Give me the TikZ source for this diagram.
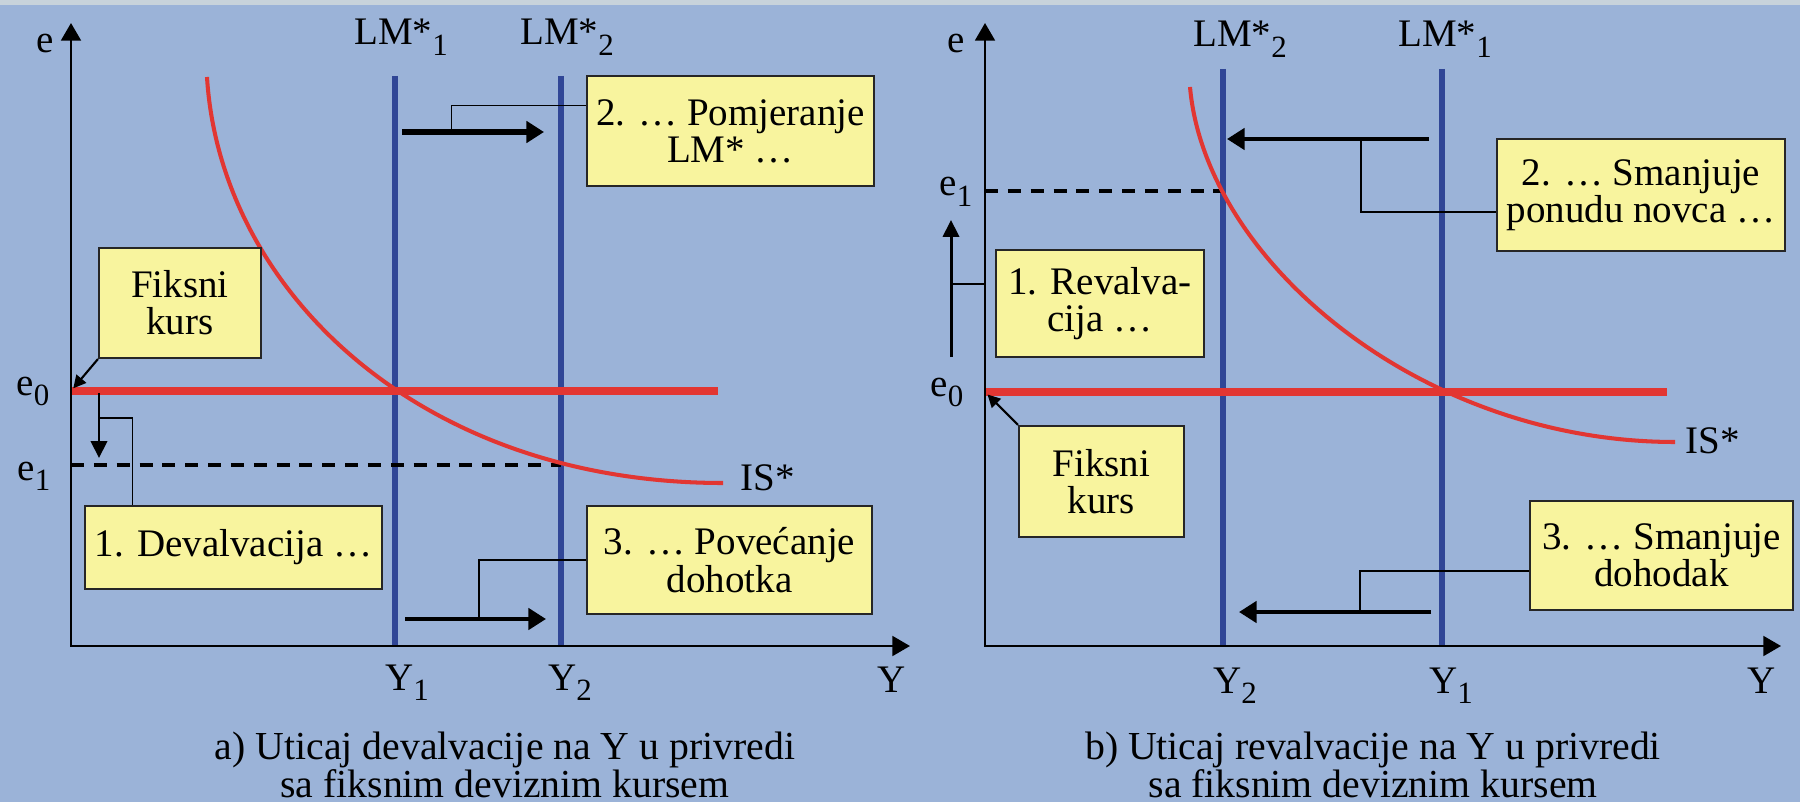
\documentclass[tikz,border=0pt]{standalone}
\usepackage{fontspec}
\setmainfont{Liberation Serif}
\usetikzlibrary{arrows.meta,calc,positioning}

\definecolor{bgblue}{RGB}{155,179,216}
\definecolor{topgrey}{RGB}{200,211,219}
\definecolor{lmblue}{RGB}{48,70,150}
\definecolor{isred}{RGB}{226,54,50}
\definecolor{notey}{RGB}{248,244,158}

\newcommand\diagfont{\fontsize{11.1pt}{10.6pt}\selectfont}
\newcommand\capfont{\fontsize{11.3pt}{10.8pt}\selectfont}
\newcommand\lowidx[1]{\raisebox{-0.27em}{\fontsize{8.8pt}{8.8pt}\selectfont #1}}

\tikzset{
  axis/.style={line width=0.75pt, {Triangle[length=5pt,width=5.6pt]}-{Triangle[length=5pt,width=5.6pt]}},
  lmline/.style={lmblue, line width=1.8pt},
  fixline/.style={isred, line width=2.3pt},
  isline/.style={isred, line width=1.15pt},
  rateline/.style={line width=1.1pt, dash pattern=on 3.7pt off 2.8pt},
  note/.style={draw=black!85, line width=0.6pt, fill=notey, align=center, inner sep=0pt},
  shiftarrow/.style={line width=1.2pt, -{Triangle[length=5pt,width=6pt]}},
  droparrow/.style={line width=0.85pt, -{Triangle[length=4.8pt,width=4.6pt]}},
  pointer/.style={line width=0.6pt, shorten >=1pt, -{Triangle[length=3.6pt,width=3.6pt]}},
  link/.style={line width=0.4pt},
  lbl/.style={anchor=base, inner sep=0pt},
}

\begin{document}
\begin{tikzpicture}[x=0.1mm,y=-0.1mm,font=\diagfont]
  % background
  \fill[bgblue] (0,0) rectangle (1800,802);
  \fill[topgrey] (0,0) rectangle (1800,5);
  \useasboundingbox (0,0) rectangle (1800,802);

  % ---------- a) devalvacija ----------
  \coordinate (oA) at (71,646);
  \coordinate (topA) at (71,23);
  \coordinate (endA) at (910,646);
  \coordinate (eA0) at (71,391);
  \coordinate (eA1) at (71,465);
  \coordinate (fixAend) at (718,391);
  \coordinate (lmAa) at (395,76);
  \coordinate (lmAb) at (561,76);

  \draw[lmline] (lmAa) -- (lmAa |- oA);
  \draw[lmline] (lmAb) -- (lmAb |- oA);
  \draw[rateline] (eA1) -- (eA1 -| lmAb);
  \draw[fixline] (eA0) -- (fixAend);
  \draw[isline] (207,77) .. controls (220,290) and (420,483) .. (723,483);
  \draw[axis] (topA) |- (endA);

  \node[lbl] (eA) at (45,53) {e};
  \node[lbl] (eA0l) at (33,395) {e\lowidx{0}};
  \node[lbl] (eA1l) at (34,480) {e\lowidx{1}};
  \node[lbl] (lmA1l) at (401,45) {LM*\lowidx{1}};
  \node[lbl] (lmA2l) at (567,45) {LM*\lowidx{2}};
  \node[lbl] (yA1l) at (407,690) {Y\lowidx{1}};
  \node[lbl] (yA2l) at (570,690) {Y\lowidx{2}};
  \node[lbl] (yAl) at (892,692) {Y};
  \node[lbl, anchor=base west] (isA) at (740,490) {IS*};

  \node[note, minimum width=16.2mm, minimum height=11mm] (fixA) at (180,303) {Fiksni\\kurs};
  \node[note, minimum width=29.7mm, minimum height=8.3mm] (devA) at (233.5,547.5) {1. Devalvacija …};
  \node[note, minimum width=28.7mm, minimum height=11mm] (pomA) at (730.5,131) {2. … Pomjeranje\\LM* …};
  \node[note, minimum width=28.5mm, minimum height=10.8mm] (povA) at (729.5,560) {3. … Povećanje\\dohotka};

  \coordinate (dA1) at (99,393);
  \coordinate (dA2) at (99,458);
  \draw[droparrow] (dA1) -- (dA2);
  \draw[link] ($(dA1)!0.385!(dA2)$) -| ($(devA.north west)!0.162!(devA.north east)$);

  \coordinate (pA1) at (402,132);
  \coordinate (pA2) at (544,132);
  \draw[shiftarrow, line width=1.7pt] (pA1) -- (pA2);
  \draw[link] ($(pA1)!0.35!(pA2)$) |- ($(pomA.north west)!0.27!(pomA.south west)$);

  \coordinate (yA1) at (405,619);
  \coordinate (yA2) at (546,619);
  \draw[shiftarrow] (yA1) -- (yA2);
  \draw[link] ($(yA1)!0.525!(yA2)$) |- (povA.west);

  \draw[pointer] (fixA.south west) -- (eA0);

  \node[lbl, align=center, font=\capfont] (capA) at (505,797)
    {a) Uticaj devalvacije na Y u privredi\\sa fiksnim deviznim kursem};

  % ---------- b) revalvacija ----------
  \coordinate (oB) at (985,646);
  \coordinate (topB) at (985,23);
  \coordinate (endB) at (1781,646);
  \coordinate (eB0) at (985,392);
  \coordinate (eB1) at (985,191);
  \coordinate (fixBend) at (1667,392);
  \coordinate (lmBa) at (1223,69);
  \coordinate (lmBb) at (1442,69);

  \draw[lmline] (lmBa) -- (lmBa |- oB);
  \draw[lmline] (lmBb) -- (lmBb |- oB);
  \draw[rateline] (eB1) -- (eB1 -| lmBa);
  \draw[fixline] (eB0) -- (fixBend);
  \draw[isline] (1190,87) .. controls (1205,260) and (1420,442) .. (1675,442);
  \draw[axis] (topB) |- (endB);

  \node[lbl] (eB) at (956,53) {e};
  \node[lbl] (eB1l) at (956,196) {e\lowidx{1}};
  \node[lbl] (eB0l) at (947,396) {e\lowidx{0}};
  \node[lbl] (lmB2l) at (1240,47) {LM*\lowidx{2}};
  \node[lbl] (lmB1l) at (1445,47) {LM*\lowidx{1}};
  \node[lbl] (yB2l) at (1235,693) {Y\lowidx{2}};
  \node[lbl] (yB1l) at (1451,693) {Y\lowidx{1}};
  \node[lbl] (yBl) at (1762,693) {Y};
  \node[lbl, anchor=base west] (isB) at (1685,453) {IS*};

  \node[note, minimum width=20.8mm, minimum height=10.7mm] (revB) at (1100,303.5) {1. Revalva-\\cija …};
  \node[note, minimum width=28.8mm, minimum height=11.2mm] (smnB) at (1641,195) {2. … Smanjuje\\ponudu novca …};
  \node[note, minimum width=16.5mm, minimum height=11.1mm] (fixB) at (1101.5,481.5) {Fiksni\\kurs};
  \node[note, minimum width=26.3mm, minimum height=10.9mm] (dohB) at (1661.5,555.5) {3. … Smanjuje\\dohodak};

  \coordinate (rB1) at (951,357);
  \coordinate (rB2) at (951,220);
  \draw[droparrow] (rB1) -- (rB2);
  \coordinate (rJ) at ($(rB1)!0.533!(rB2)$);
  \draw[link] (rJ) -- (rJ -| oB);

  \coordinate (sB1) at (1429,139);
  \coordinate (sB2) at (1227,139);
  \draw[shiftarrow] (sB1) -- (sB2);
  \draw[link] ($(sB1)!0.337!(sB2)$) |- ($(smnB.north west)!0.65!(smnB.south west)$);

  \coordinate (hB1) at (1431,612);
  \coordinate (hB2) at (1239,612);
  \draw[shiftarrow] (hB1) -- (hB2);
  \draw[link] ($(hB1)!0.37!(hB2)$) |- ($(dohB.north west)!0.64!(dohB.south west)$);

  \draw[pointer] (fixB.north west) -- (eB0);

  \node[lbl, align=center, font=\capfont] (capB) at (1373,797)
    {b) Uticaj revalvacije na Y u privredi\\sa fiksnim deviznim kursem};
\end{tikzpicture}
\end{document}
